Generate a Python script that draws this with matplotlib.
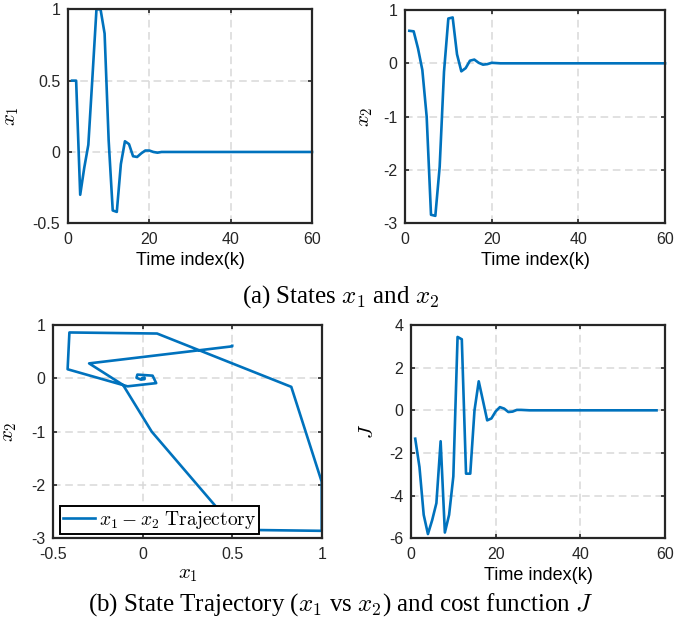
import numpy as np
import matplotlib
matplotlib.use("Agg")
import matplotlib.pyplot as plt

plt.rcParams['font.family'] = ['Liberation Sans', 'DejaVu Sans']
plt.rcParams['mathtext.fontset'] = 'cm'
plt.rcParams['axes.unicode_minus'] = False

# states, k = 1..60
x1 = [0.5, 0.5, -0.30, -0.11, 0.05, 0.52, 1.0, 1.0, 0.83, 0.08,
      -0.41, -0.42, -0.085, 0.075, 0.055, -0.03, -0.035, -0.01, 0.01, 0.01,
      0.0, -0.005] + [0.0] * 38
x2 = [0.61, 0.60, 0.28, -0.125, -1.0, -2.84, -2.86, -1.94, -0.16, 0.84,
      0.86, 0.17, -0.15, -0.09, 0.05, 0.07, 0.01, -0.025, -0.015, 0.01,
      0.005, 0.0] + [0.0] * 38
# cost function, k = 1..58
J = [-1.33, -2.66, -4.9, -5.8, -5.15, -4.35, -1.45, -5.73, -4.9, -3.1,
     3.44, 3.33, -2.97, -2.97, 0.0, 1.36, 0.45, -0.47, -0.38, -0.05,
     0.15, 0.08, -0.08, -0.06, 0.02, 0.02, 0.01] + [0.0] * 31
k_x = np.arange(1, len(x1) + 1)
k_J = np.arange(1, len(J) + 1)

blue = '#0072BD'
W, H = 674, 627
TICK_FS = 11.5
LABEL_FS = 13
MATH_FS = 15


def rect(l, t, r, b):
    return [l / W, 1 - b / H, (r - l) / W, (b - t) / H]


def style(ax, xlim, xticks, ylim, yticks):
    ax.set_xlim(xlim)
    ax.set_ylim(ylim)
    ax.set_xticks(xticks)
    ax.set_yticks(yticks)
    ax.set_xticklabels(['%g' % v for v in xticks])
    ax.set_yticklabels(['%g' % v for v in yticks])
    ax.grid(True, color='#d9d9d9', linestyle=(0, (5, 3)), linewidth=1.1)
    ax.set_axisbelow(True)
    for s in ax.spines.values():
        s.set_linewidth(1.6)
        s.set_color('#262626')
    ax.tick_params(direction='in', top=True, right=True, length=3,
                   width=1.2, labelsize=TICK_FS, colors='#262626')
    ax.tick_params(axis='x', pad=6.5)
    ax.tick_params(axis='y', pad=5.5)


fig = plt.figure(figsize=(6.74, 6.27), dpi=100)

ax1 = fig.add_axes(rect(68, 9.3, 312, 223.3))
ax1.plot(k_x, x1, color=blue, lw=1.9, clip_on=False)
style(ax1, (0, 60), [0, 20, 40, 60], (-0.5, 1), [-0.5, 0, 0.5, 1])
ax1.set_xlabel('Time index(k)', fontsize=LABEL_FS, labelpad=3.5)
ax1.set_ylabel('$x_1$', fontsize=MATH_FS)
ax1.yaxis.set_label_coords(-0.193, 0.5)

ax2 = fig.add_axes(rect(405, 10, 665, 223.3))
ax2.plot(k_x, x2, color=blue, lw=1.9, clip_on=False)
style(ax2, (0, 60), [0, 20, 40, 60], (-3, 1), [-3, -2, -1, 0, 1])
ax2.set_xlabel('Time index(k)', fontsize=LABEL_FS, labelpad=3.5)
ax2.set_ylabel('$x_2$', fontsize=MATH_FS)
ax2.yaxis.set_label_coords(-0.115, 0.5)

ax3 = fig.add_axes(rect(53.3, 325, 321.7, 538.3))
ax3.plot(x1, x2, color=blue, lw=1.9, clip_on=False,
         label=r'$x_1 - x_2\ \mathrm{Trajectory}$')
style(ax3, (-0.5, 1), [-0.5, 0, 0.5, 1], (-3, 1), [-3, -2, -1, 0, 1])
ax3.set_xlabel('$x_1$', fontsize=MATH_FS, labelpad=2)
ax3.set_ylabel('$x_2$', fontsize=MATH_FS)
ax3.yaxis.set_label_coords(-0.128, 0.5)
leg = ax3.legend(loc='lower left', bbox_to_anchor=(0.025, 0.022), borderaxespad=0,
                 fancybox=False, framealpha=1, edgecolor='black', fontsize=14,
                 handlelength=1.65, handletextpad=0.2, borderpad=0.15)
leg.get_frame().set_linewidth(1.4)

ax4 = fig.add_axes(rect(411, 325, 665, 538.3))
ax4.plot(k_J, J, color=blue, lw=1.9, clip_on=False)
style(ax4, (0, 60), [0, 20, 40, 60], (-6, 4), [-6, -4, -2, 0, 2, 4])
ax4.set_xlabel('Time index(k)', fontsize=LABEL_FS, labelpad=3.5)
ax4.set_ylabel('$J$', fontsize=MATH_FS)
ax4.yaxis.set_label_coords(-0.134, 0.5)

fig.text(0.505, 1 - 297 / H, '(a) States $x_1$ and $x_2$', ha='center', va='center',
         family='Liberation Serif', fontsize=18)
fig.text(0.505, 1 - 605 / H, r'(b) State Trajectory ($x_1$ vs $x_2$) and cost function $J$',
         ha='center', va='center', family='Liberation Serif', fontsize=18)

fig.savefig('out.png', dpi=100)
